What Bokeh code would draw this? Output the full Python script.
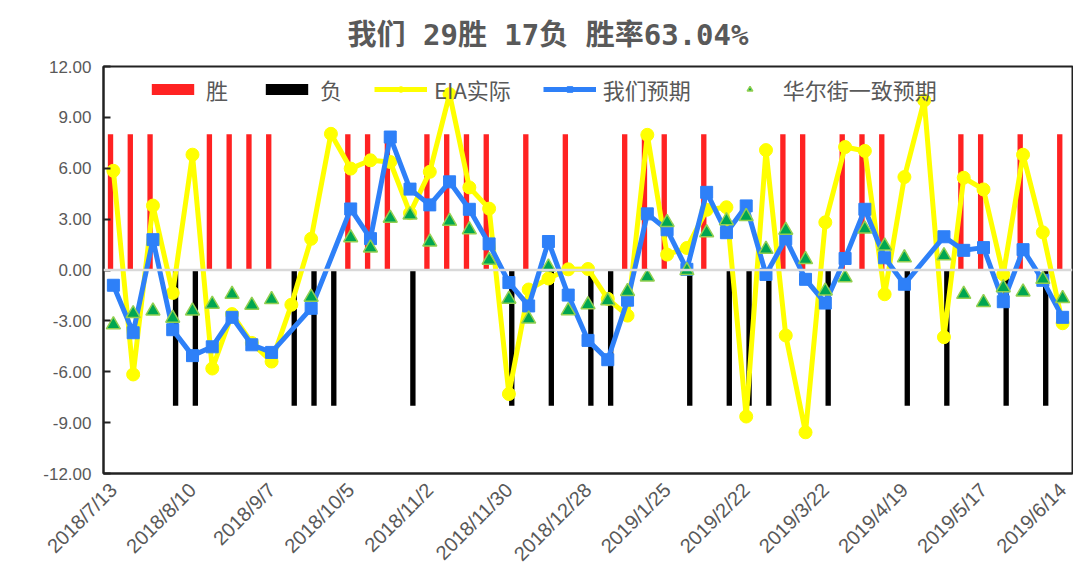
import math
from bokeh.plotting import figure
from bokeh.models import (ColumnDataSource, Range1d, FixedTicker, NumeralTickFormatter,
                          Span, Legend, LegendItem)
from bokeh.transform import dodge
from bokeh.embed import file_html
from bokeh.resources import INLINE

# ---------------- data ----------------
tick_index = [0, 4, 8, 12, 16, 20, 24, 28, 32, 36, 40, 44, 48]
tick_labels = ["2018/7/13", "2018/8/10", "2018/9/7", "2018/10/5", "2018/11/2",
               "2018/11/30", "2018/12/28", "2019/1/25", "2019/2/22", "2019/3/22",
               "2019/4/19", "2019/5/17", "2019/6/14"]

# 胜 = win, 负 = loss, "" = none
outcome = ["胜", "胜", "胜", "负", "负", "胜", "胜", "胜", "胜", "负",
           "负", "负", "胜", "胜", "胜", "负", "胜", "胜", "胜", "胜",
           "负", "胜", "负", "胜", "负", "负", "胜", "胜", "胜", "负",
           "胜", "负", "负", "负", "胜", "胜", "负", "胜", "胜", "胜",
           "负", "", "负", "胜", "胜", "负", "胜", "负", "胜"]
bar_value = 8.0

eia_actual = [5.85, -6.16, 3.80, -1.35, 6.80, -5.81, -2.60, -4.30, -5.40, -2.05,
              1.84, 8.03, 5.98, 6.47, 6.37, 3.35, 5.79, 10.37, 4.87, 3.62,
              -7.31, -1.15, -0.50, 0.04, 0.06, -1.70, -2.69, 7.97, 0.91, 1.30,
              3.55, 3.70, -8.64, 7.07, -3.86, -9.57, 2.81, 7.25, 7.02, -1.43,
              5.48, 10.00, -3.96, 5.44, 4.75, -0.26, 6.80, 2.22, -3.14]

our_forecast = [-0.90, -3.70, 1.79, -3.52, -5.05, -4.53, -2.79, -4.41, -4.86, None,
                -2.26, None, 3.60, 1.85, 7.84, 4.77, 3.84, 5.20, 3.58, 1.54,
                -0.74, -2.12, 1.68, -1.48, -4.15, -5.29, -1.78, 3.31, 2.37, 0.04,
                4.58, 2.20, 3.78, -0.26, 1.84, -0.55, -1.95, 0.68, 3.58, 0.72,
                -0.84, None, 1.96, 1.16, 1.32, -1.87, 1.20, -0.61, -2.79]

street_consensus = [-3.23, -2.57, -2.41, -2.84, -2.41, -2.01, -1.43, -2.07, -1.74, None,
                    -1.60, None, 1.91, 1.30, 3.06, 3.25, 1.65, 2.87, 2.37, 0.58,
                    -1.72, -2.89, 0.18, -2.40, -2.04, -1.81, -1.26, -0.41, 2.81, -0.03,
                    2.20, 2.90, 3.15, 1.22, 2.35, 0.62, -1.23, -0.45, 2.42, 1.42,
                    0.72, None, 0.85, -1.43, -1.91, -1.04, -1.29, -0.55, -1.68]

title_text = "我们 29胜 17负 胜率63.04%"

# ---------------- sources ----------------
weeks = list(range(len(outcome)))
win_src = ColumnDataSource(dict(x=[w for w, o in zip(weeks, outcome) if o == "胜"],
                                top=[bar_value for o in outcome if o == "胜"]))
loss_src = ColumnDataSource(dict(x=[w for w, o in zip(weeks, outcome) if o == "负"],
                                 bottom=[-bar_value for o in outcome if o == "负"]))
eia_src = ColumnDataSource(dict(x=weeks, y=eia_actual))
our_src = ColumnDataSource(dict(x=[w for w, v in zip(weeks, our_forecast) if v is not None],
                                y=[v for v in our_forecast if v is not None]))
st_src = ColumnDataSource(dict(x=[w for w, v in zip(weeks, street_consensus) if v is not None],
                               y=[v for v in street_consensus if v is not None]))

GREY = "#595959"
LATIN = "Liberation Sans Narrow, Liberation Sans"

p = figure(width=1073, height=585, output_backend="svg", toolbar_location=None,
           x_range=Range1d(-0.5, len(outcome) - 0.5), y_range=Range1d(-12, 12),
           min_border_left=103, min_border_right=1, min_border_top=63, min_border_bottom=112)

p.title.text = title_text
p.title.align = "left"
p.title.offset = 244
p.title.standoff = 30
p.title.text_font = "DejaVu Sans Mono, Noto Sans CJK SC"
p.title.text_font_size = "29px"
p.title.text_font_style = "bold"
p.title.text_color = GREY

p.xgrid.visible = False
p.ygrid.visible = False
p.outline_line_color = "#222222"
p.outline_line_width = 2
p.background_fill_color = "white"
p.border_fill_color = "white"

# axes
p.yaxis.ticker = FixedTicker(ticks=[-12, -9, -6, -3, 0, 3, 6, 9, 12])
p.yaxis.formatter = NumeralTickFormatter(format="0.00")
p.yaxis.major_tick_in = 7
p.yaxis.major_tick_out = 0
p.yaxis.minor_tick_line_color = None
p.yaxis.axis_line_color = "#222222"
p.yaxis.axis_line_width = 2
p.yaxis.major_tick_line_color = "#222222"
p.yaxis.major_tick_line_width = 2
p.yaxis.major_label_text_font = LATIN
p.yaxis.major_label_text_font_size = "17px"
p.yaxis.major_label_text_color = GREY
p.yaxis.major_label_standoff = 12

p.xaxis.ticker = FixedTicker(ticks=tick_index)
p.xaxis.major_label_overrides = {i: s for i, s in zip(tick_index, tick_labels)}
p.xaxis.major_label_orientation = math.pi / 4
p.xaxis.major_tick_in = 0
p.xaxis.major_tick_out = 0
p.xaxis.minor_tick_line_color = None
p.xaxis.axis_line_color = "#222222"
p.xaxis.axis_line_width = 2
p.xaxis.major_label_text_font = "Liberation Sans"
p.xaxis.major_label_text_font_size = "20px"
p.xaxis.major_label_text_color = GREY
p.xaxis.major_label_standoff = 13

# bars
r_win = p.vbar(x=dodge("x", -0.145, range=p.x_range), top="top", bottom=0, width=0.27,
               source=win_src, fill_color="#FF2222", line_color=None)
r_loss = p.vbar(x=dodge("x", 0.145, range=p.x_range), top=0, bottom="bottom", width=0.27,
                source=loss_src, fill_color="#000000", line_color=None)

p.add_layout(Span(location=0, dimension="width", line_color="#D9D9D9", line_width=2.5))

# lines
r_eia_l = p.line("x", "y", source=eia_src, line_color="#FFFF00", line_width=5)
r_eia_m = p.scatter("x", "y", source=eia_src, marker="circle", size=13,
                    fill_color="#FFFF00", line_color="#FFFF00")
r_our_l = p.line("x", "y", source=our_src, line_color="#2E80F8", line_width=5)
r_our_m = p.scatter("x", "y", source=our_src, marker="square", size=12,
                    fill_color="#2E80F8", line_color="#2E80F8")
r_st = p.scatter("x", "y", source=st_src, marker="triangle", size=14,
                 fill_color="#00A651", line_color="#92D050", line_width=1.5)

legend = Legend(items=[
    LegendItem(label="胜", renderers=[r_win]),
    LegendItem(label="负", renderers=[r_loss]),
    LegendItem(label="EIA实际", renderers=[r_eia_l, r_eia_m]),
    LegendItem(label="我们预期", renderers=[r_our_l, r_our_m]),
    LegendItem(label="华尔街一致预期", renderers=[r_st]),
], orientation="horizontal", location=(43, 368))
legend.border_line_color = None
legend.background_fill_alpha = 0
legend.padding = 0
legend.margin = 0
legend.spacing = 32
legend.label_standoff = 7
legend.glyph_width = 53
legend.glyph_height = 14
legend.label_text_font = "Noto Sans CJK SC"
legend.label_text_font_size = "22px"
legend.label_text_color = GREY
p.add_layout(legend)

open("out.html", "w").write(file_html(p, INLINE))
